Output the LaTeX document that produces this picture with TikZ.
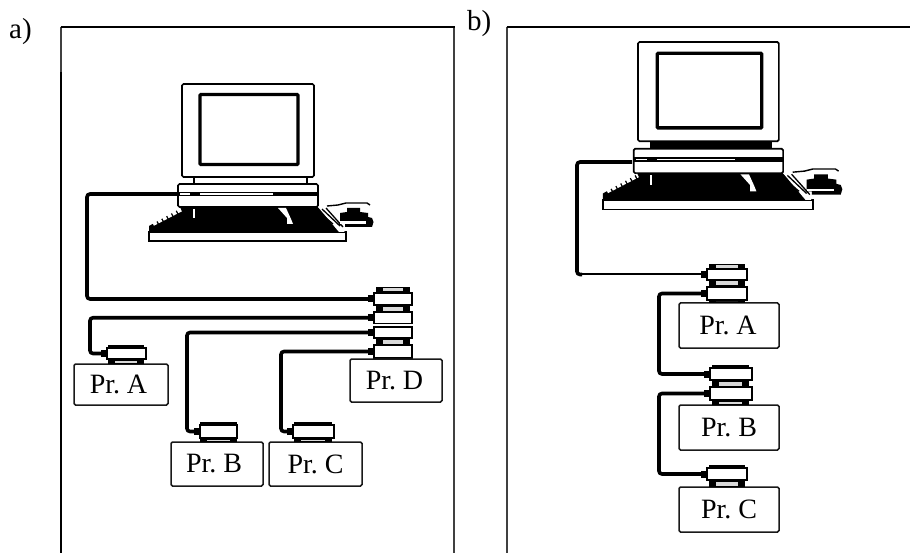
\documentclass[tikz,border=0pt]{standalone}
\usepackage{fontspec}
\setmainfont[WordSpace=0.65]{Liberation Serif}
\tikzset{
  frameline/.style={line width=1.8pt,black},
  frameside/.style={line width=1.4pt,black!75},
  cable/.style={line width=3.6pt,black,rounded corners=3pt},
  thincable/.style={line width=2pt,black},
  printer/.style={draw=black!90,line width=1.5pt,rounded corners=1.5pt,fill=white,inner sep=0pt,font=\fontsize{28}{28}\selectfont},
  plugbody/.style={draw=black,line width=1.6pt,fill=white,inner sep=0pt},
  label/.style={inner sep=0pt,font=\fontsize{29}{29}\selectfont},
}
\newcommand{\plugbox}[5]{%
  \node[plugbody,minimum width=#4pt-#2pt,minimum height=#5pt-#3pt] (#1) at ({(#2+#4)/2},{(#3+#5)/2}) {};
  \fill[black] (#2-6,{(#3+#5)/2-3.5}) rectangle (#2,{(#3+#5)/2+3.5});
}
\newcommand{\plugstrip}[4]{%
  \fill[black] (#1,#2) rectangle (#3,#4);
  \fill[black!15] (#1+7,#2+1.5) rectangle (#3-7,#4-1.5);
}
\newcommand{\computer}[4]{%
\begin{scope}[shift={(#1,#2)},scale=#3]
\begin{scope}[shift={(-182,-84)}]
  % neck
  \draw[line width=1.5pt,fill=#4] (194,176) rectangle (307,184);
  % monitor
  \draw[line width=1.7pt,rounded corners=1.5pt,fill=white] (182,84) rectangle (314,177);
  \draw[line width=3.4pt,rounded corners=1pt] (200,94.5) rectangle (298,164.5);
  % base
  \draw[line width=1.7pt,rounded corners=1.5pt,fill=white] (178,184) rectangle (318,207);
  \fill[black] (178,192) rectangle (318,196);
  \fill[white] (180,193.3) rectangle (190,194.7);
  \fill[white] (200,193.3) rectangle (273,194.7);
  % keyboard
  \fill[black] (183,207) -- (318,207) -- (346,232) -- (149,232) -- (149,226) -- cycle;
  \draw[line width=1.7pt,fill=white] (149,232) rectangle (346,241);
  \draw[white,line width=4pt,dash pattern=on 4pt off 1.5pt] (153,224) -- (182,209);
  \draw[white,line width=1.8pt] (194,209) -- (194,218);
  \fill[white] (278,208) -- (286,208) -- (291,219) -- (293,224) -- (287,224) -- (287,218) -- cycle;
  \fill[white] (318,207) -- (323,207) -- (346,229) -- (344,232) -- (339,232) -- cycle;
  \draw[black,line width=1.4pt] (327,206) -- (338,205) -- (346,203) -- (367,203) -- (370,205);
  \draw[black,line width=1.3pt] (320,213) -- (333,224) (322,209) -- (340,226) (326,208) -- (343,227);
  % mouse
  \fill[black] (340,213) -- (347,212) -- (347,208) -- (360,208) -- (360,212) -- (368,213) -- (368,217) -- (372,218) -- (373.5,222) -- (372,227) -- (345,227) -- (345,224) -- (340,224) -- cycle;
  \fill[white] (340,221.5) rectangle (366,224);
\end{scope}
\end{scope}}
\begin{document}
\begin{tikzpicture}[x=1pt,y=-1pt]
\useasboundingbox (0,0) rectangle (910,553);
\node[label,anchor=west] (la) at (9,32) {a)};
\node[label,anchor=west] (lb) at (467,24) {b)};
% frames
\draw[frameside] (61,553) -- (61,27) (454,27) -- (454,553) (507,27) -- (507,553);
\draw[line width=2pt,black] (60.5,553) -- (60.5,72);
\draw[frameline] (60.5,27) -- (454.7,27);
\draw[frameline] (506.5,27) -- (910,27);
% --- a) ---
\computer{182}{84}{1}{white}
\coordinate (pca) at (178,194);
\plugstrip{376}{287}{410}{293}
\plugstrip{376}{305}{410}{312}
\plugstrip{376}{338}{410}{345}
\plugbox{s1}{374}{293}{412}{305}
\plugbox{s2}{374}{312}{412}{323.5}
\plugbox{s3}{374}{327}{412}{338}
\plugbox{s4}{374}{345}{412}{358}
\node[printer,minimum width=94pt,minimum height=41pt] (pa) at (121,384.5) {\hspace*{-5pt}Pr. A};
\node[printer,minimum width=92pt,minimum height=43pt] (pd) at (396,380.5) {\hspace*{-3pt}Pr. D};
\node[printer,minimum width=92pt,minimum height=44pt] (pb) at (217,464) {\hspace*{-6pt}Pr. B};
\node[printer,minimum width=93pt,minimum height=44pt] (pc) at (315.5,464) {Pr. C};
\plugstrip{108}{345}{144}{349}
\plugstrip{108}{359}{144}{364}
\plugbox{ca}{107}{348}{146}{359}
\plugstrip{200}{422}{237}{426}
\plugstrip{200}{438}{237}{442}
\plugbox{cb}{200}{425}{237}{438}
\plugstrip{294}{422}{332}{426}
\plugstrip{294}{438}{332}{442}
\plugbox{cc}{293}{425}{334}{438}
\draw[cable] (pca) -- (87,194) |- (s1.west);
\draw[cable] (s2.west) -| (90,340) |- (ca.west);
\draw[cable] (s3.west) -| (187,400) |- (cb.west);
\draw[cable] (s4.west) -| (281,400) |- (cc.west);
% --- b) ---
\computer{638}{42}{1.067}{black}
\coordinate (pcb) at (632,162);
\coordinate (thinstart) at (582,274.5);
\node[printer,minimum width=100pt,minimum height=45pt] (qa) at (729,325.5) {\hspace*{-2pt}Pr. A};
\node[printer,minimum width=100pt,minimum height=45pt] (qb) at (729,427.5) {Pr. B};
\node[printer,minimum width=100pt,minimum height=45pt] (qc) at (729,509.5) {Pr. C};
\plugstrip{709}{264}{745}{270}
\plugstrip{709}{280}{745}{287}
\plugstrip{709}{300}{745}{303}
\plugbox{t1}{707}{269}{747}{280}
\plugbox{t2}{707}{287}{747}{300}
\plugstrip{712}{365}{749}{369}
\plugstrip{712}{380}{749}{387}
\plugstrip{712}{400}{749}{405}
\plugbox{u1}{710}{368}{752}{380}
\plugbox{u2}{710}{387}{752}{400}
\plugstrip{709}{465}{745}{469}
\plugstrip{709}{480}{745}{487}
\plugbox{v1}{707}{468}{747}{480}
\draw[cable] (pcb) -- (577,162) |- (thinstart);
\draw[thincable] (thinstart) -- (t1.west);
\draw[cable] (t2.west) -| (659,340) |- (u1.west);
\draw[cable] (u2.west) -| (659,440) |- (v1.west);
\end{tikzpicture}
\end{document}
